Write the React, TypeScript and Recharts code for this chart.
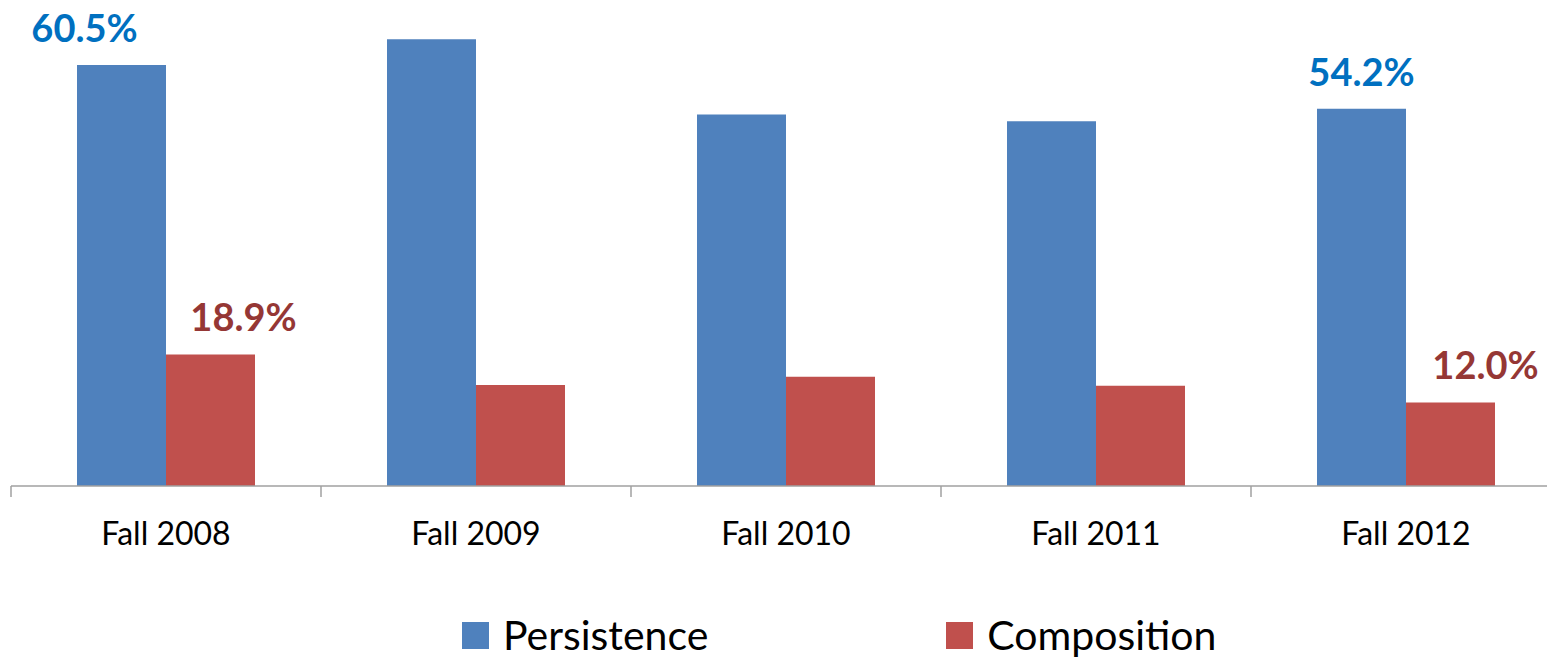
import { BarChart, Bar, XAxis, YAxis, Legend, LabelList } from 'recharts';

const terms = ['Fall 2008', 'Fall 2009', 'Fall 2010', 'Fall 2011', 'Fall 2012'];
const persistence = [60.5, 64.2, 53.4, 52.4, 54.2];
const composition = [18.9, 14.5, 15.7, 14.4, 12.0];
// which bars carry a value label
const labelled = [0, 4];

const data = terms.map((term, i) => ({
  term,
  persistence: persistence[i],
  composition: composition[i],
}));

const BLUE = '#4F81BD';
const RED = '#C0504D';
const AXIS = '#A0A0A0';
const FONT = 'Lato, "Open Sans", sans-serif';

const series = [
  { key: 'persistence', name: 'Persistence', color: BLUE },
  { key: 'composition', name: 'Composition', color: RED },
];

// horizontal nudge of each label, the way they were dragged in the original
const persistenceShift = [-37, 0, 0, 0, 0];
const compositionShift = [33, 0, 0, 0, 35];

function makeLabel(color: string, shift: number[]) {
  return (props: any) => {
    const { x, y, width, value, index } = props;
    if (!labelled.includes(index)) return null;
    return (
      <text
        x={x + width / 2 + shift[index]}
        y={y - 23}
        textAnchor="middle"
        fill={color}
        fontFamily={FONT}
        fontWeight={700}
        fontSize={38}
      >
        {`${Number(value).toFixed(1)}%`}
      </text>
    );
  };
}

// category label plus Excel-style tick marks between the categories
function TermTick(props: any) {
  const { x, y, payload, index, visibleTicksCount } = props;
  const half = payload?.offset || 155;
  const axisY = y - 36;
  return (
    <g>
      <line x1={x - half} x2={x - half} y1={axisY} y2={axisY + 11} stroke={AXIS} strokeWidth={1.5} />
      {index === visibleTicksCount - 1 && (
        <line x1={x + half} x2={x + half} y1={axisY} y2={axisY + 11} stroke={AXIS} strokeWidth={1.5} />
      )}
      <text x={x} y={y} dy="0.71em" textAnchor="middle" fill="#000" fontSize={32} fontFamily={FONT}>
        {payload.value}
      </text>
    </g>
  );
}

function LegendBox() {
  return (
    <div style={{ height: 100, paddingTop: 55, paddingLeft: 462, boxSizing: 'border-box', display: 'flex', gap: 238, fontFamily: FONT }}>
      {series.map((s) => (
        <div key={s.key} style={{ display: 'flex', alignItems: 'center', height: 40 }}>
          <div style={{ width: 27, height: 27, background: s.color, marginRight: 14 }} />
          <span style={{ fontSize: 41, lineHeight: '40px', color: '#000' }}>{s.name}</span>
        </div>
      ))}
    </div>
  );
}

export default function App() {
  return (
    <div style={{ position: 'absolute', left: 0, top: 0, width: 1547, height: 660, overflow: 'hidden', background: '#fff' }}>
      <BarChart
        width={1600}
        height={660}
        data={data}
        margin={{ top: 10, right: 39, bottom: 0, left: 11 }}
        barCategoryGap={66}
        barGap={0}
      >
        <XAxis
          dataKey="term"
          height={74}
          stroke={AXIS}
          strokeWidth={1.5}
          tickLine={false}
          tickSize={0}
          tickMargin={36}
          tick={<TermTick />}
        />
        <YAxis hide domain={[0, 68.4]} />
        <Legend verticalAlign="bottom" wrapperStyle={{ left: 0, width: 1547, bottom: 0 }} content={<LegendBox />} />
        {series.map((s) => (
          <Bar key={s.key} dataKey={s.key} name={s.name} fill={s.color} isAnimationActive={false}>
            <LabelList
              dataKey={s.key}
              content={makeLabel(s.key === 'persistence' ? '#0070C0' : '#953735', s.key === 'persistence' ? persistenceShift : compositionShift)}
            />
          </Bar>
        ))}
      </BarChart>
    </div>
  );
}
